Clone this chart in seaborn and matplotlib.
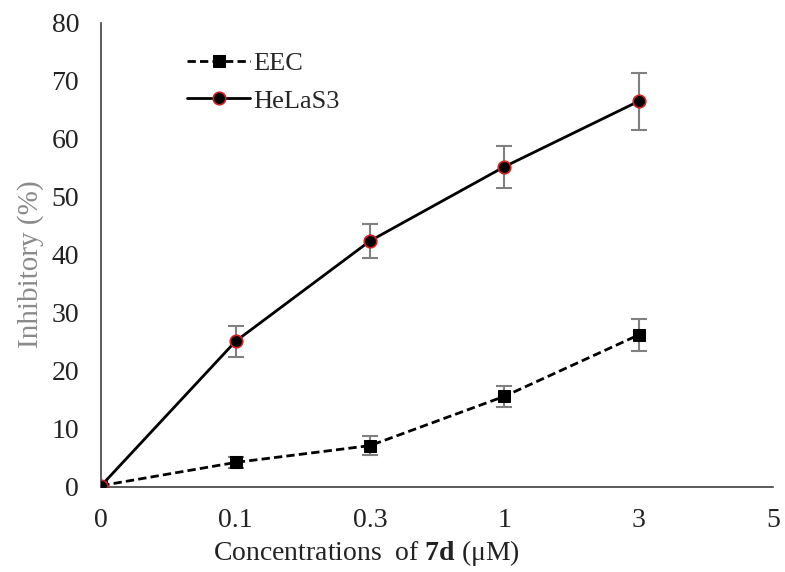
import pandas as pd
import matplotlib.pyplot as plt
import numpy as np
import seaborn as sns

conc_labels = ['0', '0.1', '0.3', '1', '3', '5']
eec_mean = [0.2, 4.2, 7.1, 15.6, 26.2]
eec_err = [0.3, 1.0, 1.6, 1.8, 2.7]
hela_mean = [0.2, 25.1, 42.4, 55.2, 66.5]
hela_err = [0.3, 2.7, 2.9, 3.6, 4.9]

sns.set_style('white')
plt.rcParams['font.family'] = ['Liberation Serif', 'DejaVu Serif']
plt.rcParams['mathtext.fontset'] = 'custom'
plt.rcParams['mathtext.rm'] = 'Liberation Serif'
plt.rcParams['mathtext.bf'] = 'Liberation Serif:bold'

pos = np.arange(len(eec_mean))
df_eec = pd.DataFrame({'x': pos, 'y': eec_mean, 'err': eec_err})
df_hela = pd.DataFrame({'x': pos, 'y': hela_mean, 'err': hela_err})

fig = plt.figure(figsize=(7.85, 5.72), dpi=100)
ax = fig.add_axes([0.129, 0.149, 0.856, 0.811])

# Fehlerbalken zuerst, damit die Marker darueber liegen
ax.errorbar(df_eec['x'], df_eec['y'], yerr=df_eec['err'], fmt='none',
            ecolor='#808080', elinewidth=1.5, capsize=6, capthick=1.5, zorder=2)
ax.errorbar(df_hela['x'], df_hela['y'], yerr=df_hela['err'], fmt='none',
            ecolor='#808080', elinewidth=1.5, capsize=6, capthick=1.5, zorder=2)

sns.lineplot(data=df_eec, x='x', y='y', ax=ax, color='black', linewidth=2,
             linestyle=(0, (3, 1.5)), marker='s', markersize=9,
             markeredgecolor='black', label='EEC', zorder=3)
sns.lineplot(data=df_hela, x='x', y='y', ax=ax, color='black', linewidth=2,
             marker='o', markersize=9, markerfacecolor='black',
             markeredgecolor='#d02020', markeredgewidth=1.2,
             label='HeLaS3', zorder=4)

ax.set_xlim(0, 5)
ax.set_ylim(0, 80)
ax.set_xticks(np.arange(len(conc_labels)))
ax.set_xticklabels(conc_labels)
ax.set_yticks(np.arange(0, 81, 10))

for s in ['top', 'right']:
    ax.spines[s].set_visible(False)
for s in ['left', 'bottom']:
    ax.spines[s].set_color('#404040')
    ax.spines[s].set_linewidth(1.2)

ax.tick_params(axis='both', direction='out', length=7, width=1.2,
               color='#404040', labelsize=20, labelcolor='#222222', pad=9)
ax.tick_params(axis='x', pad=8)

ax.set_xlabel('Concentrations  of $\\mathbf{7d}$ (μM)', fontsize=20,
              color='#222222')
ax.xaxis.set_label_coords(0.394, -0.11)
ax.set_ylabel('Inhibitory (%)', fontsize=21, color='#8a8a8a')
ax.yaxis.set_label_coords(-0.085, 0.48)

ax.legend(loc='upper left', bbox_to_anchor=(0.092, 0.99), frameon=False,
          fontsize=19, handlelength=2.4, handletextpad=0.1, labelspacing=0.55)

fig.savefig('out.png', dpi=100)
